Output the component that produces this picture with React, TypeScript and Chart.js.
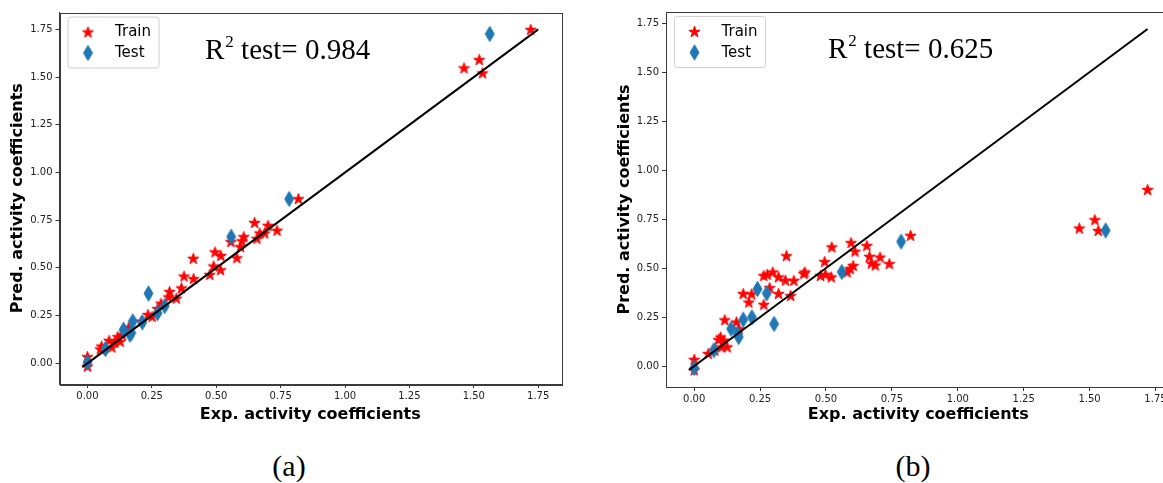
import React, { useEffect, useRef } from 'react';
import { Chart, registerables } from 'chart.js';

Chart.register(...registerables);

// ---------- data ----------
const tickValues = [0, 0.25, 0.5, 0.75, 1.0, 1.25, 1.5, 1.75];
const tickLabels = ['0.00', '0.25', '0.50', '0.75', '1.00', '1.25', '1.50', '1.75'];

// panel (a)
const trainXa = [0.000, 0.000, 0.050, 0.055, 0.084, 0.095, 0.106, 0.118, 0.127, 0.135, 0.160, 0.209, 0.235, 0.251, 0.272, 0.286, 0.315, 0.319, 0.345, 0.365, 0.375, 0.411, 0.412, 0.475, 0.490, 0.495, 0.517, 0.518, 0.557, 0.580, 0.594, 0.600, 0.607, 0.649, 0.658, 0.669, 0.688, 0.701, 0.736, 0.819, 1.462, 1.521, 1.534, 1.721];
const trainYa = [0.035, -0.015, 0.075, 0.090, 0.120, 0.085, 0.110, 0.140, 0.115, 0.150, 0.188, 0.221, 0.256, 0.245, 0.287, 0.315, 0.348, 0.376, 0.341, 0.395, 0.457, 0.550, 0.444, 0.466, 0.510, 0.584, 0.490, 0.565, 0.638, 0.553, 0.611, 0.642, 0.664, 0.738, 0.655, 0.683, 0.683, 0.723, 0.697, 0.863, 1.548, 1.592, 1.522, 1.750];
const testXa = [0.000, 0.070, 0.140, 0.165, 0.170, 0.176, 0.213, 0.237, 0.272, 0.300, 0.558, 0.783, 1.562];
const testYa = [0.005, 0.075, 0.176, 0.150, 0.160, 0.220, 0.215, 0.366, 0.263, 0.300, 0.663, 0.861, 1.726];
const lineXa = [-0.02, 1.75];
const lineYa = [-0.02, 1.75];
const r2a = '0.984';

// panel (b)
const trainXb = [0.000, 0.000, 0.053, 0.078, 0.092, 0.100, 0.104, 0.113, 0.125, 0.116, 0.160, 0.170, 0.186, 0.207, 0.218, 0.264, 0.264, 0.277, 0.286, 0.298, 0.320, 0.320, 0.346, 0.350, 0.366, 0.378, 0.416, 0.420, 0.479, 0.495, 0.498, 0.520, 0.522, 0.580, 0.592, 0.595, 0.603, 0.610, 0.655, 0.665, 0.672, 0.687, 0.705, 0.740, 0.821, 1.461, 1.520, 1.533, 1.720];
const trainYb = [0.034, -0.020, 0.064, 0.081, 0.135, 0.148, 0.098, 0.132, 0.098, 0.236, 0.225, 0.190, 0.370, 0.326, 0.368, 0.315, 0.462, 0.468, 0.400, 0.480, 0.370, 0.455, 0.438, 0.563, 0.360, 0.437, 0.472, 0.480, 0.462, 0.533, 0.468, 0.455, 0.608, 0.480, 0.497, 0.630, 0.513, 0.586, 0.615, 0.560, 0.525, 0.516, 0.556, 0.523, 0.667, 0.704, 0.747, 0.692, 0.901];
const testXb = [0.000, 0.075, 0.140, 0.165, 0.169, 0.186, 0.219, 0.240, 0.275, 0.303, 0.560, 0.785, 1.561];
const testYb = [-0.010, 0.081, 0.190, 0.165, 0.148, 0.237, 0.249, 0.393, 0.371, 0.215, 0.480, 0.635, 0.692];
const lineXb = [-0.02, 1.72];
const lineYb = [-0.02, 1.72];
const r2b = '0.625';

const seriesNames = ['Train', 'Test'];
const TRAIN_COLOR = '#ff0000';
const TEST_COLOR = '#1f77b4';

// ---------- marker images ----------
function makeStar(color: string, R: number) {
  const size = Math.ceil(2 * R + 3);
  const c = document.createElement('canvas');
  c.width = size; c.height = size;
  const ctx = c.getContext('2d')!;
  const cx = size / 2, cy = size / 2 + 0.6;
  const r = R * 0.381966;
  ctx.beginPath();
  for (let i = 0; i < 10; i++) {
    const ang = -Math.PI / 2 + (i * Math.PI) / 5;
    const rad = i % 2 === 0 ? R : r;
    const x = cx + rad * Math.cos(ang);
    const y = cy + rad * Math.sin(ang);
    if (i === 0) ctx.moveTo(x, y); else ctx.lineTo(x, y);
  }
  ctx.closePath();
  ctx.fillStyle = color; ctx.fill();
  ctx.strokeStyle = color; ctx.lineWidth = 1; ctx.lineJoin = 'miter'; ctx.stroke();
  return c;
}

function makeDiamond(color: string, hw: number, hh: number) {
  const w = Math.ceil(2 * hw + 2), h = Math.ceil(2 * hh + 2);
  const c = document.createElement('canvas');
  c.width = w; c.height = h;
  const ctx = c.getContext('2d')!;
  const cx = w / 2, cy = h / 2;
  ctx.beginPath();
  ctx.moveTo(cx, cy - hh);
  ctx.lineTo(cx + hw, cy);
  ctx.lineTo(cx, cy + hh);
  ctx.lineTo(cx - hw, cy);
  ctx.closePath();
  ctx.fillStyle = color; ctx.fill();
  ctx.strokeStyle = color; ctx.lineWidth = 1; ctx.stroke();
  return c;
}

type PanelCfg = {
  trainX: number[]; trainY: number[];
  testX: number[]; testY: number[];
  lineX: number[]; lineY: number[];
  r2: string;
  xMin: number; xMax: number; yMin: number; yMax: number;
  yAxisWidth: number; xAxisHeight: number;
  padTop: number; padRight: number;
  yTitlePad: number;
  r2X: number; r2Y: number;
  width: number; height: number;
};

function Panel({ cfg }: { cfg: PanelCfg }) {
  const ref = useRef<HTMLCanvasElement>(null);
  useEffect(() => {
    const star = makeStar(TRAIN_COLOR, 5.9);
    const diamond = makeDiamond(TEST_COLOR, 4.5, 7.6);
    const toPts = (xs: number[], ys: number[]) => xs.map((x, i) => ({ x, y: ys[i] }));

    const overlay = {
      id: 'overlay',
      afterDraw(chart: any) {
        const { ctx, chartArea: a } = chart;
        ctx.save();
        // frame
        ctx.strokeStyle = '#3a3a3a';
        ctx.lineWidth = 1;
        ctx.strokeRect(Math.round(a.left) + 0.5, Math.round(a.top) + 0.5, Math.round(a.right - a.left), Math.round(a.bottom - a.top));
        // R^2 text
        ctx.fillStyle = '#000';
        ctx.textAlign = 'left';
        ctx.textBaseline = 'alphabetic';
        let x = cfg.r2X;
        ctx.font = '29px "Liberation Serif", "Times New Roman", serif';
        ctx.fillText('R', x, cfg.r2Y);
        x += ctx.measureText('R').width + 1;
        ctx.font = '17px "Liberation Serif", "Times New Roman", serif';
        ctx.fillText('2', x, cfg.r2Y - 12);
        x += ctx.measureText('2').width;
        ctx.font = '29px "Liberation Serif", "Times New Roman", serif';
        ctx.fillText(' test= ' + cfg.r2, x, cfg.r2Y);
        // legend
        const bx = a.left + 8.5, by = a.top + 4.5, bw = 91, bh = 51;
        ctx.beginPath();
        const rr = 3;
        ctx.moveTo(bx + rr, by);
        ctx.lineTo(bx + bw - rr, by);
        ctx.quadraticCurveTo(bx + bw, by, bx + bw, by + rr);
        ctx.lineTo(bx + bw, by + bh - rr);
        ctx.quadraticCurveTo(bx + bw, by + bh, bx + bw - rr, by + bh);
        ctx.lineTo(bx + rr, by + bh);
        ctx.quadraticCurveTo(bx, by + bh, bx, by + bh - rr);
        ctx.lineTo(bx, by + rr);
        ctx.quadraticCurveTo(bx, by, bx + rr, by);
        ctx.closePath();
        ctx.fillStyle = 'rgba(255,255,255,0.8)';
        ctx.fill();
        ctx.strokeStyle = '#d0d0d0';
        ctx.lineWidth = 1;
        ctx.stroke();
        ctx.drawImage(star, bx + 20 - star.width / 2, by + 15 - star.height / 2);
        ctx.drawImage(diamond, bx + 20 - diamond.width / 2, by + 36 - diamond.height / 2);
        ctx.fillStyle = '#000';
        ctx.font = '15px "DejaVu Sans", sans-serif';
        ctx.textBaseline = 'middle';
        ctx.fillText(seriesNames[0], bx + 47, by + 15.5);
        ctx.fillText(seriesNames[1], bx + 47, by + 36.5);
        ctx.restore();
      },
    };

    const tickFont = { family: '"DejaVu Sans", sans-serif', size: 10 };
    const titleFont = { family: '"DejaVu Sans", sans-serif', size: 16, weight: 'bold' as const };

    const chart = new Chart(ref.current!, {
      type: 'scatter',
      data: {
        datasets: [
          {
            label: 'line',
            data: toPts(cfg.lineX, cfg.lineY),
            showLine: true,
            borderColor: '#000',
            borderWidth: 2,
            pointRadius: 0,
            fill: false,
          } as any,
          {
            label: seriesNames[1],
            data: toPts(cfg.testX, cfg.testY),
            pointStyle: diamond,
            backgroundColor: TEST_COLOR,
            borderColor: TEST_COLOR,
          },
          {
            label: seriesNames[0],
            data: toPts(cfg.trainX, cfg.trainY),
            pointStyle: star,
            backgroundColor: TRAIN_COLOR,
            borderColor: TRAIN_COLOR,
          },
        ],
      },
      options: {
        animation: false,
        responsive: false,
        maintainAspectRatio: false,
        layout: { padding: { top: cfg.padTop, right: cfg.padRight, left: 0, bottom: 0 } },
        plugins: { legend: { display: false }, tooltip: { enabled: false } },
        scales: {
          x: {
            type: 'linear',
            min: cfg.xMin,
            max: cfg.xMax,
            afterFit: (s: any) => { s.height = cfg.xAxisHeight; },
            afterBuildTicks: (s: any) => { s.ticks = tickValues.map((v) => ({ value: v })); },
            ticks: {
              callback: (_v: any, i: number) => tickLabels[i],
              font: tickFont,
              color: '#222',
              padding: 2,
              maxRotation: 0,
              autoSkip: false,
            },
            grid: { display: true, drawOnChartArea: false, drawTicks: true, tickLength: 4, tickColor: '#333', tickWidth: 1 },
            border: { display: true, color: '#3a3a3a', width: 1 },
            title: {
              display: true,
              text: 'Exp. activity coefficients',
              font: titleFont,
              color: '#000',
              padding: { top: 0, bottom: 16 },
            },
          },
          y: {
            type: 'linear',
            min: cfg.yMin,
            max: cfg.yMax,
            afterFit: (s: any) => { s.width = cfg.yAxisWidth; },
            afterBuildTicks: (s: any) => { s.ticks = tickValues.map((v) => ({ value: v })); },
            ticks: {
              callback: (_v: any, i: number) => tickLabels[i],
              font: tickFont,
              color: '#222',
              padding: 3,
              autoSkip: false,
            },
            grid: { display: true, drawOnChartArea: false, drawTicks: true, tickLength: 4, tickColor: '#333', tickWidth: 1 },
            border: { display: true, color: '#3a3a3a', width: 1 },
            title: {
              display: true,
              text: 'Pred. activity coefficients',
              font: titleFont,
              color: '#000',
              padding: { top: cfg.yTitlePad, bottom: 0 },
            },
          },
        },
      },
      plugins: [overlay],
    });
    return () => chart.destroy();
  }, [cfg]);
  return <canvas ref={ref} width={cfg.width} height={cfg.height} style={{ display: 'block' }} />;
}

const cfgA: PanelCfg = {
  trainX: trainXa, trainY: trainYa, testX: testXa, testY: testYa, lineX: lineXa, lineY: lineYa, r2: r2a,
  xMin: -0.1085, xMax: 1.8385, yMin: -0.1085, yMax: 1.8385,
  yAxisWidth: 59.5, xAxisHeight: 56, padTop: 12.5, padRight: 29, yTitlePad: 8.4,
  r2X: 205, r2Y: 59, width: 590, height: 440,
};

const cfgB: PanelCfg = {
  trainX: trainXb, trainY: trainYb, testX: testXb, testY: testYb, lineX: lineXb, lineY: lineYb, r2: r2b,
  xMin: -0.107, xMax: 1.807, yMin: -0.107, yMax: 1.807,
  yAxisWidth: 66, xAxisHeight: 53, padTop: 12, padRight: 29.5, yTitlePad: 15.4,
  r2X: 228, r2Y: 58, width: 600, height: 440,
};

const captionStyle: React.CSSProperties = {
  position: 'absolute',
  width: 100,
  top: 451,
  textAlign: 'center',
  fontFamily: '"Liberation Serif", "Times New Roman", serif',
  fontSize: 30,
  lineHeight: '30px',
  color: '#000',
};

export default function App() {
  return (
    <div style={{ position: 'absolute', left: 0, top: 0, width: 1163, height: 483, overflow: 'hidden', background: '#fff' }}>
      <div style={{ position: 'absolute', left: 0, top: 0 }}>
        <Panel cfg={cfgA} />
      </div>
      <div style={{ position: 'absolute', left: 600, top: 0 }}>
        <Panel cfg={cfgB} />
      </div>
      <div style={{ ...captionStyle, left: 239 }}>(a)</div>
      <div style={{ ...captionStyle, left: 863 }}>(b)</div>
    </div>
  );
}
